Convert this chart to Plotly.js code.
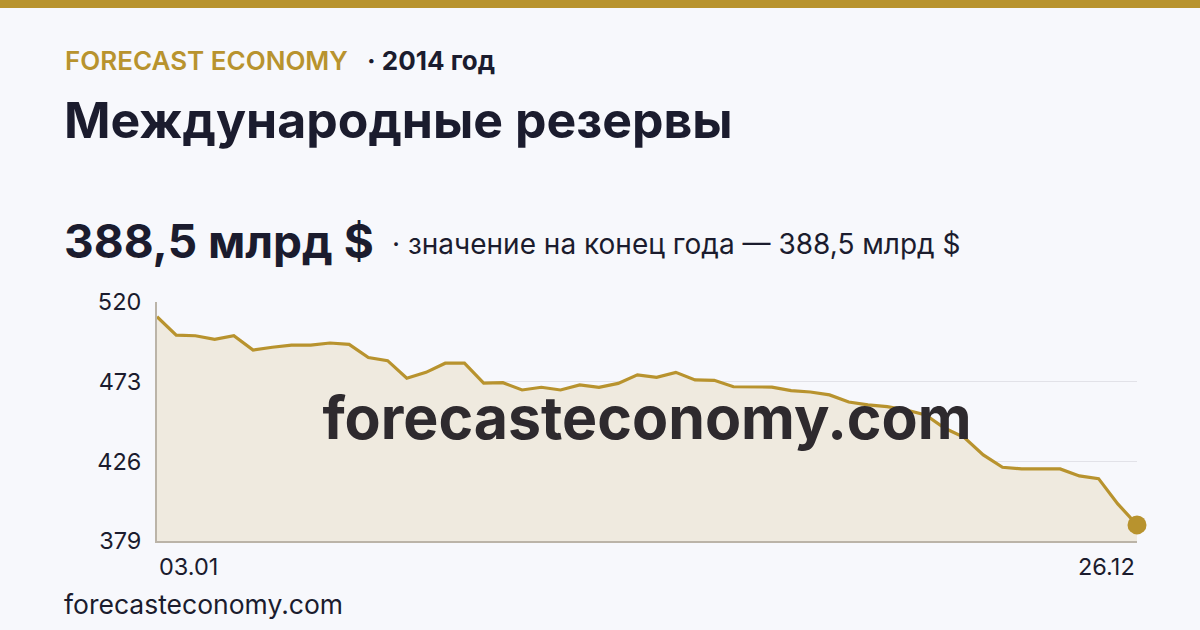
<!DOCTYPE html>
<html><head><meta charset="utf-8">
<script src="https://cdn.plot.ly/plotly-3.0.1.min.js"></script>
<style>
html,body{margin:0;padding:0;background:#f7f8fc;}
#wrap{position:relative;width:1200px;height:630px;background:#f7f8fc;overflow:hidden;font-family:Inter,"Noto Sans",sans-serif;}
#bar{position:absolute;left:0;top:0;width:1200px;height:8px;background:#b8932e;}
.t{position:absolute;white-space:nowrap;line-height:normal;}
#chart{position:absolute;left:0;top:0;width:1200px;height:630px;}
</style></head>
<body><div id="wrap">
<div id="chart"></div>
<div id="bar"></div>
<div class="t" style="left:65px;top:45px;font-size:26px;font-weight:600;color:#b8932e;">FORECAST ECONOMY</div>
<div class="t" style="left:367px;top:45px;font-size:26px;font-weight:700;color:#1b1c2e;">· 2014 год</div>
<div class="t" style="left:64px;top:90px;font-size:50px;font-weight:700;color:#1b1c2e;">Международные резервы</div>
<div class="t" style="left:64px;top:213px;font-size:46px;font-weight:700;color:#1b1c2e;">388,5 млрд $</div>
<div class="t" style="left:392px;top:227px;font-size:28px;font-weight:400;color:#1b1c2e;">· значение на конец года — 388,5 млрд $</div>
<div class="t" style="left:64px;top:588px;font-size:26.5px;font-weight:400;color:#1b1c2e;">forecasteconomy.com</div>
</div>
<script>
const dates = ["03.01","10.01","17.01","24.01","31.01","07.02","14.02","21.02","28.02",
"07.03","14.03","21.03","28.03","04.04","11.04","18.04","25.04","02.05","09.05","16.05","23.05","30.05",
"06.06","13.06","20.06","27.06","04.07","11.07","18.07","25.07","01.08","08.08","15.08","22.08","29.08",
"05.09","12.09","19.09","26.09","03.10","10.10","17.10","24.10","31.10","07.11","14.11","21.11","28.11",
"05.12","12.12","19.12","26.12"];
const reserves = [511.3,500.5,500.1,498.0,500.1,491.7,493.3,494.5,494.6,495.8,495.0,487.2,485.4,475.0,478.5,483.9,483.9,472.2,
472.4,468.1,469.7,468.1,471.1,469.7,472.0,477.0,475.6,478.5,474.0,473.8,470.0,470.0,469.8,467.7,466.9,
465.2,461.0,459.3,458.3,456.3,453.4,445.5,440.2,429.8,422.5,421.5,421.5,421.5,417.4,415.8,400.9,388.5];
const yTicks = [379,426,473,520];
const xTickLabels = [dates[0], dates[dates.length-1]];
const watermark = "forecasteconomy.com";

const gold = "#b8932e";
const traces = [
  {x:[0.5], y:[0.49], xaxis:"x2", yaxis:"y2", mode:"text", text:[watermark],
   textfont:{family:"Inter, Noto Sans, sans-serif", size:59, color:"#2e2a2e", weight:700},
   cliponaxis:false, hoverinfo:"skip", showlegend:false},
  {x:dates, y:reserves, type:"scatter", mode:"lines", fill:"tozeroy",
   fillcolor:"#efeadf", line:{color:gold, width:3.2}, showlegend:false, hoverinfo:"skip"},
  {x:[dates[dates.length-1]], y:[reserves[reserves.length-1]], type:"scatter", mode:"markers",
   marker:{color:gold, size:19}, showlegend:false, hoverinfo:"skip", cliponaxis:false}
];
const layout = {
  width:1200, height:630,
  paper_bgcolor:"rgba(0,0,0,0)", plot_bgcolor:"#f7f8fc",
  margin:{l:157, r:63, t:302, b:89},
  showlegend:false,
  font:{family:"Inter, Noto Sans, sans-serif", color:"#1b1c2e"},
  xaxis:{type:"category", range:[0, dates.length-1], showticklabels:false, ticks:"",
    showgrid:false, zeroline:false, showline:true, linecolor:"#bbb4a8", linewidth:2, fixedrange:true},
  yaxis:{range:[379,520], tickvals:yTicks, ticktext:yTicks.map(String), ticks:"",
    tickfont:{size:23.5, color:"#1b1c2e"}, ticklabelstandoff:9,
    showgrid:true, gridcolor:"#e2e2e8", gridwidth:1, zeroline:false,
    showline:true, linecolor:"#bbb4a8", linewidth:2, fixedrange:true},
  xaxis2:{overlaying:"x", range:[0,1], visible:false, fixedrange:true},
  yaxis2:{overlaying:"y", range:[0,1], visible:false, fixedrange:true},
  annotations:[
    {xref:"paper", yref:"paper", x:0, y:0, yshift:-9, text:xTickLabels[0], showarrow:false,
     xanchor:"left", yanchor:"top", font:{size:23.5, color:"#1b1c2e"}},
    {xref:"paper", yref:"paper", x:1, y:0, yshift:-9, text:xTickLabels[1], showarrow:false,
     xanchor:"right", yanchor:"top", font:{size:23.5, color:"#1b1c2e"}}
  ]
};
Plotly.newPlot("chart", traces, layout, {displayModeBar:false, staticPlot:true});
</script>
</body></html>
